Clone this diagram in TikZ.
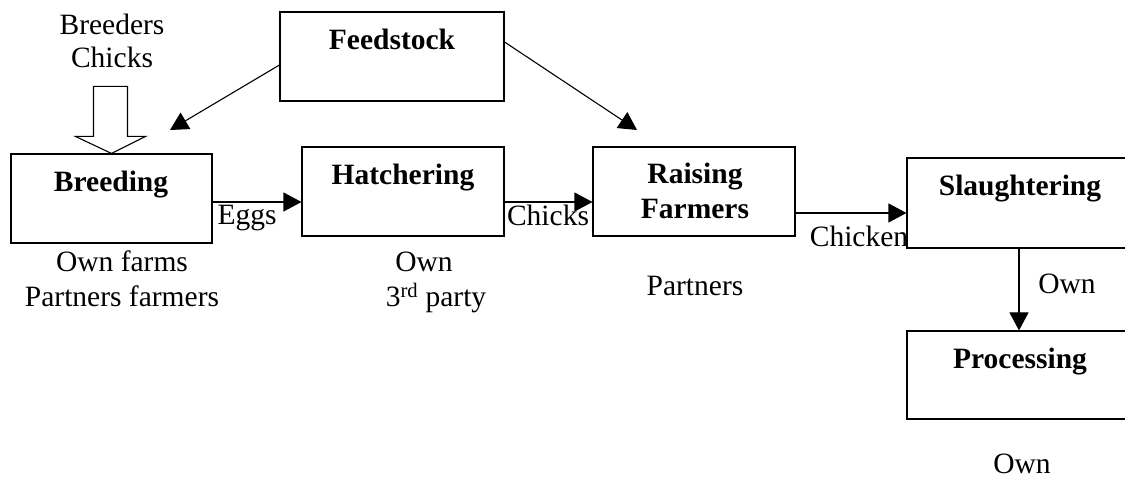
\documentclass[tikz,border=0pt]{standalone}
\usepackage{fontspec}
\setmainfont{Liberation Serif}
\usetikzlibrary{arrows.meta}
\begin{document}
\begin{tikzpicture}[x=1pt,y=-1pt,
  every node/.style={font=\fontsize{29.5}{35}\selectfont, inner sep=0pt},
  box/.style={draw, line width=1.1pt, rectangle},
  lbl/.style={anchor=base},
  blbl/.style={anchor=base, font=\fontsize{29.5}{35}\selectfont\bfseries},
  arr/.style={line width=1.1pt, -{Triangle[length=18pt,width=19pt]}}]
\useasboundingbox (0,0) rectangle (1125,478);
\begin{scope}
\clip (0,0) rectangle (1125,478);
% boxes
\node[box, minimum width=224pt, minimum height=89pt] (feed) at (392,56.5) {};
\node[box, minimum width=201pt, minimum height=89pt] (breed) at (111.5,198.5) {};
\node[box, minimum width=202pt, minimum height=89pt] (hatch) at (403,191.5) {};
\node[box, minimum width=202pt, minimum height=89pt] (raise) at (694,191.5) {};
\node[box, minimum width=226pt, minimum height=90pt] (slau) at (1020,203) {};
\node[box, minimum width=226pt, minimum height=88pt] (proc) at (1020,375) {};
\end{scope}
% box texts
\node[blbl] (tfeed) at (392,50) {Feedstock};
\node[blbl] (tbreed) at (111,192) {Breeding};
\node[blbl] (thatch) at (403,185) {Hatchering};
\node[blbl] (traise1) at (695,184) {Raising};
\node[blbl] (traise2) at (695,219) {Farmers};
\node[blbl] (tslau) at (1020,196) {Slaughtering};
\node[blbl] (tproc) at (1020,369) {Processing};
% other texts
\node[lbl] (breeders) at (112,35) {Breeders};
\node[lbl] (chicksin) at (112,68) {Chicks};
\node[lbl] (ownfarms) at (122,272) {Own farms};
\node[lbl] (partfarm) at (122,307) {Partners farmers};
\node[lbl] (ownh) at (424,272) {Own};
\node[lbl] (third) at (436,307) {3\textsuperscript{rd} party};
\node[lbl] (partners) at (695,296) {Partners};
\node[lbl] (eggs) at (247,225) {Eggs};
\node[lbl] (chicks) at (548,226) {Chicks};
\node[lbl] (chicken) at (859,247) {Chicken};
\node[lbl] (ownarr) at (1067,294) {Own};
\node[lbl] (ownproc) at (1022,473) {Own};
% hollow block arrow into Breeding
\draw[line width=1.1pt] (breed.north) -- ++(34,-17) -- ++(-18,0) -- ++(0,-50) -- ++(-34,0) -- ++(0,50) -- ++(-18,0) -- cycle;
% connectors
\coordinate (fbend) at (170,130);
\coordinate (frend) at (637,130);
\coordinate (y202) at (0,202);
\coordinate (y213) at (0,213);
\draw[arr] (feed.west |- 0,65) -- (fbend);
\draw[arr] (feed.east |- 0,42) -- (frend);
\draw[arr] (breed.east |- y202) -- (hatch.west |- y202);
\draw[arr] (hatch.east |- y202) -- (raise.west |- y202);
\draw[arr] (raise.east |- y213) -- (slau.west |- y213);
\draw[arr] (slau.south -| 1019,0) -- (proc.north -| 1019,0);
\end{tikzpicture}
\end{document}
